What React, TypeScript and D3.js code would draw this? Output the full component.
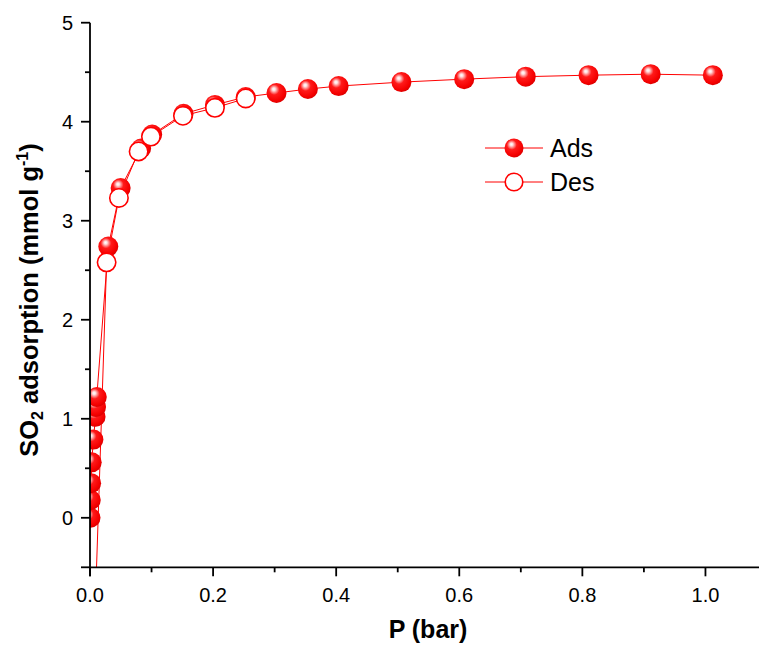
import React from "react";
import * as d3 from "d3";

// Adsorption branch (P in bar, uptake in mmol/g)
const adsP = [0.0008, 0.0012, 0.0018, 0.0028, 0.0055, 0.009, 0.0098, 0.011, 0.0297, 0.0498, 0.083, 0.101, 0.152, 0.203, 0.253, 0.303, 0.354, 0.404, 0.506, 0.608, 0.708, 0.81, 0.911, 1.012];
const adsQ = [0.0, 0.18, 0.35, 0.56, 0.79, 1.02, 1.12, 1.22, 2.74, 3.33, 3.73, 3.87, 4.08, 4.17, 4.25, 4.29, 4.33, 4.36, 4.40, 4.43, 4.455, 4.47, 4.48, 4.47];

// Desorption branch
const desP = [0.253, 0.203, 0.151, 0.099, 0.079, 0.047, 0.027, 0.0085];
const desQ = [4.235, 4.14, 4.06, 3.85, 3.70, 3.23, 2.58, -0.9];

const xMajor = [0, 0.2, 0.4, 0.6, 0.8, 1.0];
const xMinor = [0.1, 0.3, 0.5, 0.7, 0.9];
const yMajor = [0, 1, 2, 3, 4, 5];
const yMinor = [0.5, 1.5, 2.5, 3.5, 4.5];

const W = 759;
const H = 647;
const FONT = "'Liberation Sans', Arial, Helvetica, sans-serif";
const RED = "#ff0000";

export default function App() {
  const x = d3.scaleLinear().domain([0, 1.087]).range([90, 759]);
  const y = d3.scaleLinear().domain([-0.5, 5]).range([567.3, 22.7]);

  const ads = adsP.map((p, i) => [p, adsQ[i]] as [number, number]);
  const des = desP.map((p, i) => [p, desQ[i]] as [number, number]);

  const line = d3
    .line<[number, number]>()
    .x((d) => x(d[0]))
    .y((d) => y(d[1]));

  const [x0, x1] = x.range();
  const [yb, yt] = y.range();
  const R = 10;

  return (
    <svg
      width={W}
      height={H}
      viewBox={`0 0 ${W} ${H}`}
      style={{ position: "absolute", left: 0, top: 0, background: "#fff" }}
      fontFamily={FONT}
    >
      <defs>
        <clipPath id="plotClip">
          <rect x={x0} y={yt} width={x1 - x0} height={yb - yt} />
        </clipPath>
        <radialGradient id="ball" cx="0.42" cy="0.38" r="0.62" fx="0.36" fy="0.3">
          <stop offset="0" stopColor="#ffffff" />
          <stop offset="0.12" stopColor="#ffe0e0" />
          <stop offset="0.42" stopColor="#ff1a1a" />
          <stop offset="0.85" stopColor="#f40000" />
          <stop offset="1" stopColor="#dd0000" />
        </radialGradient>
      </defs>

      <rect x={0} y={0} width={W} height={H} fill="#fff" />

      {/* data */}
      <g clipPath="url(#plotClip)">
        <path d={line(des) || ""} fill="none" stroke={RED} strokeWidth={1} />
        <path d={line(ads) || ""} fill="none" stroke={RED} strokeWidth={1} />
        {ads.map((d, i) => (
          <circle key={"a" + i} cx={x(d[0])} cy={y(d[1])} r={R} fill="url(#ball)" />
        ))}
        {des.map((d, i) => (
          <circle
            key={"d" + i}
            cx={x(d[0])}
            cy={y(d[1])}
            r={R - 0.8}
            fill="#fff"
            stroke={RED}
            strokeWidth={1.6}
          />
        ))}
      </g>

      {/* axes */}
      <g stroke="#000" strokeWidth={1.8} fill="none">
        <line x1={x0} y1={yb} x2={x1} y2={yb} />
        <line x1={x0} y1={yt} x2={x0} y2={yb + 9} />
        <line x1={x0 - 9} y1={yb} x2={x0} y2={yb} />
        {xMajor.map((v) => (
          <line key={"xm" + v} x1={x(v)} y1={yb} x2={x(v)} y2={yb + 9} />
        ))}
        {xMinor.map((v) => (
          <line key={"xn" + v} x1={x(v)} y1={yb} x2={x(v)} y2={yb + 5} />
        ))}
        {yMajor.map((v) => (
          <line key={"ym" + v} x1={x0 - 9} y1={y(v)} x2={x0} y2={y(v)} />
        ))}
        {yMinor.map((v) => (
          <line key={"yn" + v} x1={x0 - 5} y1={y(v)} x2={x0} y2={y(v)} />
        ))}
      </g>

      {/* tick labels */}
      <g fontSize={20} fill="#000">
        {xMajor.map((v) => (
          <text key={"xl" + v} x={x(v)} y={602} textAnchor="middle">
            {d3.format(".1f")(v)}
          </text>
        ))}
        {yMajor.map((v) => (
          <text key={"yl" + v} x={73} y={y(v) + 7.2} textAnchor="end">
            {v}
          </text>
        ))}
      </g>

      {/* axis titles */}
      <text x={428} y={638} textAnchor="middle" fontSize={25} fontWeight="bold">
        P (bar)
      </text>
      <text
        transform={`translate(38,300) rotate(-90)`}
        textAnchor="middle"
        fontSize={25.5}
        fontWeight="bold"
      >
        SO
        <tspan fontSize={16} dy={5}>2</tspan>
        <tspan dy={-5}> adsorption (mmol g</tspan>
        <tspan fontSize={16} dy={-10}>-1</tspan>
        <tspan dy={10}>)</tspan>
      </text>

      {/* legend */}
      <g>
        <line x1={485} y1={148} x2={543} y2={148} stroke={RED} strokeWidth={1} />
        <circle cx={514} cy={148} r={9.5} fill="url(#ball)" />
        <text x={550} y={157} fontSize={25}>Ads</text>
        <line x1={485} y1={182} x2={543} y2={182} stroke={RED} strokeWidth={1} />
        <circle cx={514} cy={182} r={8.8} fill="#fff" stroke={RED} strokeWidth={1.6} />
        <text x={550} y={191} fontSize={25}>Des</text>
      </g>
    </svg>
  );
}
